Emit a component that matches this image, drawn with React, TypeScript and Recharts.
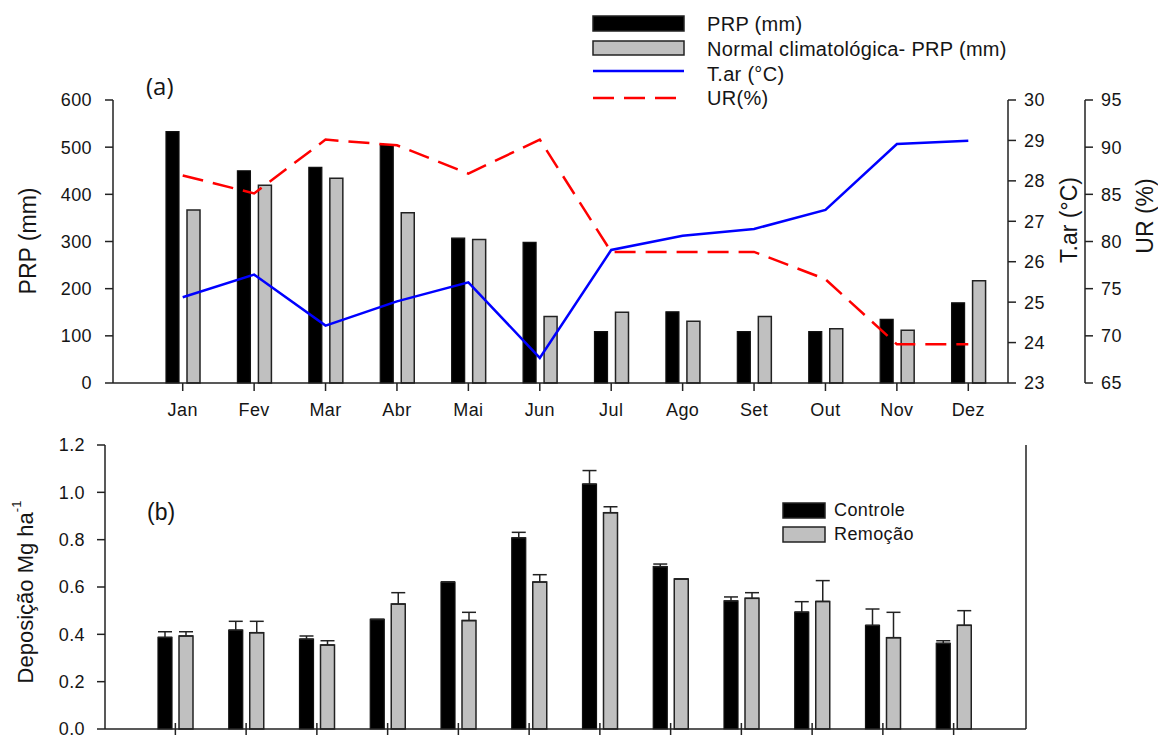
import React from 'react';
import { ComposedChart, Bar, Line, XAxis, YAxis, ErrorBar, Legend, Label } from 'recharts';

const months = ['Jan', 'Fev', 'Mar', 'Abr', 'Mai', 'Jun', 'Jul', 'Ago', 'Set', 'Out', 'Nov', 'Dez'];
const prp = [533, 450, 457, 505, 307, 298, 109, 151, 109, 109, 135, 170];
const prpNormal = [367, 419, 434, 361, 304, 141, 150, 131, 141, 115, 112, 217];
const tar = [25.12, 25.68, 24.42, 25.02, 25.49, 23.62, 26.29, 26.64, 26.81, 27.28, 28.91, 28.99];
const ur = [87.0, 85.1, 90.8, 90.2, 87.2, 90.8, 78.9, 78.9, 78.9, 76.0, 69.1, 69.1];

const controle = [0.387, 0.418, 0.38, 0.463, 0.621, 0.808, 1.035, 0.686, 0.541, 0.494, 0.438, 0.362];
const controleErr = [0.024, 0.037, 0.013, 0, 0, 0.023, 0.057, 0.011, 0.017, 0.044, 0.069, 0.011];
const remocao = [0.393, 0.407, 0.355, 0.528, 0.458, 0.621, 0.914, 0.634, 0.552, 0.539, 0.386, 0.438];
const remocaoErr = [0.018, 0.048, 0.018, 0.048, 0.035, 0.031, 0.025, 0, 0.024, 0.088, 0.107, 0.062];

const prpTicks = [0, 100, 200, 300, 400, 500, 600];
const tarTicks = [23, 24, 25, 26, 27, 28, 29, 30];
const urTicks = [65, 70, 75, 80, 85, 90, 95];
const depTicks = [0, 0.2, 0.4, 0.6, 0.8, 1.0, 1.2];

const topData = months.map((m, i) => ({ month: m, prp: prp[i], normal: prpNormal[i], tar: tar[i], ur: ur[i] }));
const bottomData = months.map((m, i) => ({
  month: m,
  controle: controle[i],
  controleErr: [0, controleErr[i]],
  remocao: remocao[i],
  remocaoErr: [0, remocaoErr[i]],
}));

const FONT = '"Liberation Sans", Arial, sans-serif';
const AX = '#222';
const TXT = '#151515';
const tickStyle = { fontFamily: FONT, fontSize: 18, fill: TXT, letterSpacing: 0.4 };

const topLegend = () => (
  <svg width={460} height={110} style={{ fontFamily: FONT, overflow: 'visible' }}>
    <rect x={1} y={16} width={91} height={15} fill="#000" stroke="#222" strokeWidth={1.5} />
    <text x={115} y={24} fontSize={20} fill={TXT} dominantBaseline="central" letterSpacing={0.3}>PRP (mm)</text>
    <rect x={1} y={41} width={91} height={14} fill="#c0c0c0" stroke="#222" strokeWidth={1.5} />
    <text x={115} y={49} fontSize={20} fill={TXT} dominantBaseline="central" letterSpacing={0.3}>Normal climatológica- PRP (mm)</text>
    <line x1={1} x2={92} y1={71} y2={71} stroke="#0000ff" strokeWidth={2.5} />
    <text x={115} y={74} fontSize={20} fill={TXT} dominantBaseline="central" letterSpacing={0.3}>T.ar (°C)</text>
    <line x1={1} x2={84} y1={98} y2={98} stroke="#ff0000" strokeWidth={2.5} strokeDasharray="21 10" />
    <text x={115} y={98} fontSize={20} fill={TXT} dominantBaseline="central" letterSpacing={0.3}>UR(%)</text>
  </svg>
);

const bottomLegend = () => (
  <svg width={200} height={60} style={{ fontFamily: FONT, overflow: 'visible' }}>
    <rect x={1} y={1} width={42} height={15} fill="#000" stroke="#222" strokeWidth={1.5} />
    <text x={52} y={8} fontSize={18} fill={TXT} dominantBaseline="central" letterSpacing={0.4}>Controle</text>
    <rect x={1} y={25} width={42} height={15} fill="#c0c0c0" stroke="#222" strokeWidth={1.5} />
    <text x={52} y={32} fontSize={18} fill={TXT} dominantBaseline="central" letterSpacing={0.4}>Remoção</text>
  </svg>
);

const rotLabel = (text: string, x: number, y: number, size = 22) => () => (
  <text
    x={x}
    y={y}
    transform={`rotate(-90 ${x} ${y})`}
    textAnchor="middle"
    dominantBaseline="central"
    fontFamily={FONT}
    fontSize={size}
    fill={TXT}
  >
    {text}
  </text>
);

const depLabel = () => (
  <text
    x={25}
    y={172}
    transform={`rotate(-90 25 172)`}
    textAnchor="middle"
    dominantBaseline="central"
    fontFamily={FONT}
    fontSize={22}
    fill={TXT}
  >
    Deposição Mg ha
    <tspan fontSize={13} dy={-9}>-1</tspan>
  </text>
);

const crossTick = (p: any) => (
  <line x1={p.x} x2={p.x} y1={p.y - 12} y2={p.y} stroke={AX} strokeWidth={1.5} />
);

export default function App() {
  return (
    <div style={{ position: 'absolute', left: 0, top: 0, width: 1158, height: 737, background: '#fff', fontFamily: FONT, overflow: 'hidden' }}>
      <div style={{ position: 'absolute', left: 0, top: 0 }}>
        <ComposedChart width={1158} height={420} data={topData} margin={{ top: 100, right: 0, bottom: 7, left: 0 }} barGap={8}>
          <XAxis
            dataKey="month"
            xAxisId="x"
            height={30}
            padding={{ left: 34, right: 4 }}
            tick={tickStyle}
            tickSize={8}
            tickMargin={12}
            axisLine={{ stroke: AX, strokeWidth: 1.5 }}
            tickLine={{ stroke: AX, strokeWidth: 1.5 }}
            interval={0}
          />
          <YAxis
            yAxisId="l"
            orientation="left"
            width={113}
            domain={[0, 600]}
            ticks={prpTicks}
            interval={0}
            tick={tickStyle}
            tickSize={8}
            tickMargin={13}
            axisLine={{ stroke: AX, strokeWidth: 1.5 }}
            tickLine={{ stroke: AX, strokeWidth: 1.5 }}
          >
            <Label content={rotLabel('PRP (mm)', 28, 241, 23)} />
          </YAxis>
          <YAxis
            yAxisId="t"
            orientation="right"
            width={77}
            domain={[23, 30]}
            ticks={tarTicks}
            interval={0}
            tick={tickStyle}
            tickSize={8}
            tickMargin={8}
            axisLine={{ stroke: AX, strokeWidth: 1.5 }}
            tickLine={{ stroke: AX, strokeWidth: 1.5 }}
          >
            <Label content={rotLabel('T.ar (°C)', 1069, 220, 23)} />
          </YAxis>
          <YAxis
            yAxisId="u"
            orientation="right"
            width={73}
            domain={[65, 95]}
            ticks={urTicks}
            interval={0}
            tick={tickStyle}
            tickSize={8}
            tickMargin={8}
            axisLine={{ stroke: AX, strokeWidth: 1.5 }}
            tickLine={{ stroke: AX, strokeWidth: 1.5 }}
          >
            <Label content={rotLabel('UR (%)', 1145, 216, 23)} />
          </YAxis>
          <Bar xAxisId="x" yAxisId="l" dataKey="prp" barSize={13} fill="#000" stroke="#111" strokeWidth={1.2} isAnimationActive={false} />
          <Bar xAxisId="x" yAxisId="l" dataKey="normal" barSize={13} fill="#c0c0c0" stroke="#222" strokeWidth={1.5} isAnimationActive={false} />
          <Line xAxisId="x" yAxisId="t" dataKey="tar" type="linear" stroke="#0000ff" strokeWidth={2.5} dot={false} isAnimationActive={false} />
          <Line xAxisId="x" yAxisId="u" dataKey="ur" type="linear" stroke="#ff0000" strokeWidth={2.5} strokeDasharray="21 10" dot={false} isAnimationActive={false} />
          <Legend
            layout="vertical"
            align="center"
            verticalAlign="middle"
            content={topLegend}
            wrapperStyle={{ position: 'absolute', left: 592, top: 0, width: 460, height: 110 }}
          />
        </ComposedChart>
      </div>
      <div style={{ position: 'absolute', left: 146, top: 70, fontFamily: '"Open Sans", sans-serif', fontSize: 24, lineHeight: '32px', color: TXT }}>(a)</div>
      <div style={{ position: 'absolute', left: 0, top: 420 }}>
        <ComposedChart width={1158} height={317} data={bottomData} margin={{ top: 25, right: 130, bottom: 0, left: 0 }} barGap={7}>
          <XAxis
            dataKey="month"
            xAxisId="x"
            height={8}
            padding={{ left: 35, right: 37 }}
            tick={crossTick}
            tickSize={6}
            tickMargin={0}
            axisLine={{ stroke: AX, strokeWidth: 1.5 }}
            tickLine={false}
            interval={0}
          />
          <YAxis
            yAxisId="l"
            orientation="left"
            width={105}
            domain={[0, 1.2]}
            ticks={depTicks}
            interval={0}
            tickFormatter={(v: number) => v.toFixed(1)}
            tick={tickStyle}
            tickSize={8}
            tickMargin={12}
            axisLine={{ stroke: AX, strokeWidth: 1.5 }}
            tickLine={{ stroke: AX, strokeWidth: 1.5 }}
          >
            <Label content={depLabel} />
          </YAxis>
          <YAxis
            yAxisId="r"
            orientation="right"
            width={2}
            domain={[0, 1.2]}
            tick={false}
            tickLine={false}
            axisLine={{ stroke: AX, strokeWidth: 1.5 }}
          />
          <Bar xAxisId="x" yAxisId="l" dataKey="controle" barSize={14} fill="#000" stroke="#111" strokeWidth={1.2} isAnimationActive={false}>
            <ErrorBar dataKey="controleErr" width={7} stroke={AX} strokeWidth={1.5} direction="y" />
          </Bar>
          <Bar xAxisId="x" yAxisId="l" dataKey="remocao" barSize={14} fill="#c0c0c0" stroke="#222" strokeWidth={1.5} isAnimationActive={false}>
            <ErrorBar dataKey="remocaoErr" width={7} stroke={AX} strokeWidth={1.5} direction="y" />
          </Bar>
          <Legend
            layout="vertical"
            align="center"
            verticalAlign="middle"
            content={bottomLegend}
            wrapperStyle={{ position: 'absolute', left: 782, top: 82, width: 200, height: 60 }}
          />
        </ComposedChart>
      </div>
      <div style={{ position: 'absolute', left: 147, top: 499, fontFamily: FONT, fontSize: 23, color: TXT }}>(b)</div>
    </div>
  );
}
